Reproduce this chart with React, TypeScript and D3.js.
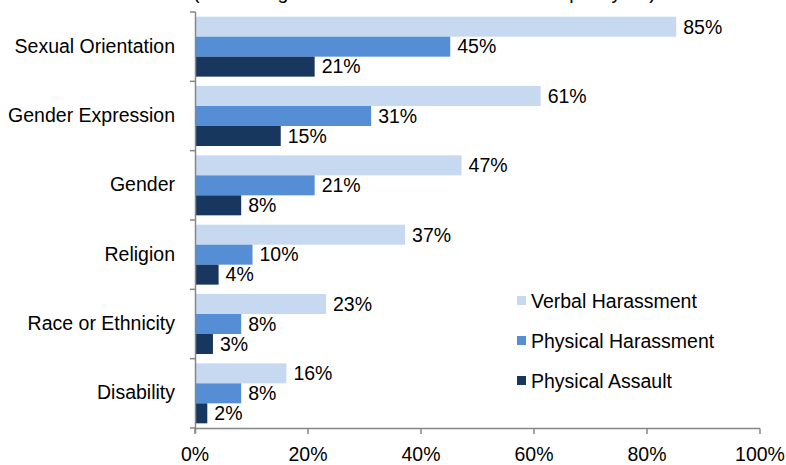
import React from "react";
import * as d3 from "d3";

const categories = [
  "Sexual Orientation",
  "Gender Expression",
  "Gender",
  "Religion",
  "Race or Ethnicity",
  "Disability",
];
const seriesNames = ["Verbal Harassment", "Physical Harassment", "Physical Assault"];
const verbal = [85, 61, 47, 37, 23, 16];
const physicalHarassment = [45, 31, 21, 10, 8, 8];
const physicalAssault = [21, 15, 8, 4, 3, 2];
const xTicks = [0, 20, 40, 60, 80, 100];
const colors = ["#C6D9F1", "#558ED5", "#17375E"];
const title = "(Percentage of all students harassed in the past year)";

export default function App() {
  const W = 786;
  const H = 465;
  const font = "'Liberation Sans', Arial, sans-serif";
  const fs = 19.5;
  const x = d3.scaleLinear().domain([0, 100]).range([195, 760]);
  const y = d3
    .scaleBand<string>()
    .domain(categories)
    .range([12, 428])
    .paddingInner(0.135)
    .paddingOuter(0.0675);
  const inner = d3
    .scaleBand<string>()
    .domain(seriesNames)
    .range([0, y.bandwidth()]);
  const data = [verbal, physicalHarassment, physicalAssault];
  const axisColor = "#868686";
  const step = y.step();
  const bounds = d3.range(categories.length + 1).map((i) => 12 + i * step);

  return (
    <svg
      width={W}
      height={H}
      style={{ position: "absolute", left: 0, top: 0, background: "#fff" }}
      fontFamily={font}
    >
      <rect x={0} y={0} width={W} height={H} fill="#fff" />
      <text x={193} y={-1} fontSize={fs} fill="#000">
        {title}
      </text>
      {categories.map((c, ci) =>
        seriesNames.map((s, si) => {
          const v = data[si][ci];
          const y0 = (y(c) as number) + (inner(s) as number);
          const bh = inner.bandwidth();
          return (
            <g key={c + s}>
              <rect
                x={x(0) + 1}
                y={y0}
                width={x(v) - x(0)}
                height={bh}
                fill={colors[si]}
              />
              <text
                x={x(v) + 8}
                y={y0 + bh / 2}
                dy="0.35em"
                fontSize={fs}
                fill="#000"
              >
                {v + "%"}
              </text>
            </g>
          );
        })
      )}
      {/* y axis */}
      <line x1={195.5} x2={195.5} y1={12} y2={433} stroke={axisColor} strokeWidth={1.5} />
      {bounds.map((b, i) => (
        <line key={"yt" + i} x1={190} x2={195.5} y1={b} y2={b} stroke={axisColor} strokeWidth={1.5} />
      ))}
      {/* x axis */}
      <line x1={195} x2={x(100)} y1={428.5} y2={428.5} stroke={axisColor} strokeWidth={1.5} />
      {xTicks.map((t) => (
        <g key={"xt" + t}>
          <line x1={x(t)} x2={x(t)} y1={428.5} y2={434} stroke={axisColor} strokeWidth={1.5} />
          <text
            x={x(t)}
            y={461}
            textAnchor="middle"
            fontSize={fs}
            fill="#000"
          >
            {t + "%"}
          </text>
        </g>
      ))}
      {categories.map((c) => (
        <text
          key={"lab" + c}
          x={175}
          y={(y(c) as number) + y.bandwidth() / 2}
          dy="0.3em"
          textAnchor="end"
          fontSize={fs}
          fill="#000"
        >
          {c}
        </text>
      ))}
      {/* legend */}
      {seriesNames.map((s, i) => {
        const ly = 301 + i * 40;
        return (
          <g key={"lg" + s}>
            <rect x={517} y={ly - 5} width={9} height={9} fill={colors[i]} />
            <text x={531} y={ly} dy="0.35em" fontSize={fs} fill="#000">
              {s}
            </text>
          </g>
        );
      })}
    </svg>
  );
}
